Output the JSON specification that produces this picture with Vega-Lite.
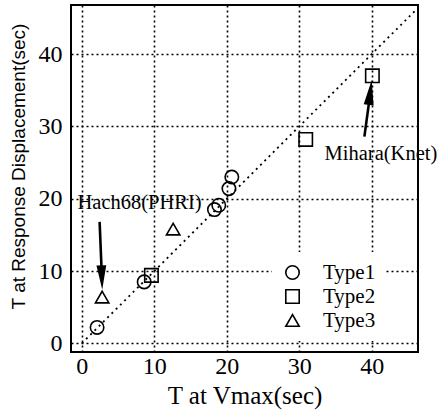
{
  "$schema": "https://vega.github.io/schema/vega-lite/v6.json",
  "width": 347,
  "height": 347,
  "autosize": "none",
  "padding": {"left": 71, "top": 5, "right": 19, "bottom": 64},
  "background": "white",
  "config": {
    "font": "Liberation Serif",
    "view": {"stroke": "black", "strokeWidth": 2},
    "axis": {
      "domain": false,
      "ticks": false,
      "grid": true,
      "gridColor": "black",
      "gridDash": [2, 3],
      "gridWidth": 1.6,
      "gridOpacity": 1,
      "labelFont": "Liberation Serif",
      "labelFontSize": 24,
      "labelColor": "black",
      "titleFont": "Liberation Serif",
      "titleFontSize": 25,
      "titleFontWeight": "normal",
      "titleColor": "black"
    }
  },
  "datasets": {
    "pts": [
      {"tx": 2.1, "ry": 2.2, "type": "Type1"},
      {"tx": 8.6, "ry": 8.5, "type": "Type1"},
      {"tx": 18.3, "ry": 18.5, "type": "Type1"},
      {"tx": 18.9, "ry": 19.1, "type": "Type1"},
      {"tx": 20.3, "ry": 21.4, "type": "Type1"},
      {"tx": 20.7, "ry": 23.0, "type": "Type1"},
      {"tx": 9.6, "ry": 9.4, "type": "Type2"},
      {"tx": 30.9, "ry": 28.2, "type": "Type2"},
      {"tx": 40.1, "ry": 37.0, "type": "Type2"},
      {"tx": 2.8, "ry": 6.4, "type": "Type3"},
      {"tx": 12.6, "ry": 15.8, "type": "Type3"}
    ],
    "diag": [{"x1": 0, "y1": 0, "x2": 46, "y2": 46}],
    "shafts": [
      {"x1": 2.45, "y1": 16.8, "x2": 2.75, "y2": 9.5},
      {"x1": 39.0, "y1": 28.6, "x2": 39.8, "y2": 34.5}
    ],
    "headDown": [{"hx": 2.75, "hy": 9.1}],
    "headUp": [{"hx": 39.8, "hy": 34.7}],
    "notes": [
      {"nx": -0.6, "ny": 19.4, "label": "Hach68(PHRI)"},
      {"nx": 33.5, "ny": 26.2, "label": "Mihara(Knet)"}
    ]
  },
  "layer": [
    {
      "data": {"name": "diag"},
      "mark": {"type": "rule", "color": "black", "strokeDash": [2, 4], "strokeWidth": 1.8},
      "encoding": {
        "x": {"field": "x1", "type": "quantitative", "scale": {"domain": [-1.5, 46.4], "nice": false, "zero": false}, "title": "T at Vmax(sec)", "axis": {"values": [0, 10, 20, 30, 40], "labelPadding": 2, "titlePadding": 5}},
        "y": {"field": "y1", "type": "quantitative", "scale": {"domain": [-1.2, 46.8], "nice": false, "zero": false}, "title": "T at Response Displacement(sec)", "axis": {"values": [0, 10, 20, 30, 40], "labelPadding": 9, "titlePadding": 10, "titleFont": "Liberation Sans", "titleFontSize": 19, "titleY": 161}},
        "x2": {"field": "x2"},
        "y2": {"field": "y2"}
      }
    },
    {
      "data": {"name": "pts"},
      "mark": {"type": "point", "filled": false, "stroke": "black", "strokeWidth": 1.6, "size": 180, "opacity": 1},
      "encoding": {
        "x": {"field": "tx", "type": "quantitative"},
        "y": {"field": "ry", "type": "quantitative"},
        "shape": {
          "field": "type",
          "type": "nominal",
          "scale": {"domain": ["Type1", "Type2", "Type3"], "range": ["circle", "square", "triangle-up"]},
          "legend": {
            "title": null,
            "orient": "none",
            "legendX": 201,
            "legendY": 247,
            "padding": 10,
            "fillColor": "white",
            "labelFont": "Liberation Serif",
            "labelFontSize": 21,
            "labelColor": "black",
            "labelOffset": 20,
            "rowPadding": 2,
            "symbolSize": 180,
            "symbolStrokeColor": "black",
            "symbolStrokeWidth": 1.6,
            "symbolFillColor": "transparent"
          }
        }
      }
    },
    {
      "data": {"name": "shafts"},
      "mark": {"type": "rule", "color": "black", "strokeWidth": 2.6},
      "encoding": {
        "x": {"field": "x1", "type": "quantitative"},
        "y": {"field": "y1", "type": "quantitative"},
        "x2": {"field": "x2"},
        "y2": {"field": "y2"}
      }
    },
    {
      "data": {"name": "headDown"},
      "mark": {"type": "point", "shape": "M0,1L0.4,-1L-0.4,-1Z", "filled": true, "color": "black", "opacity": 1, "size": 600, "angle": 358},
      "encoding": {
        "x": {"field": "hx", "type": "quantitative"},
        "y": {"field": "hy", "type": "quantitative"}
      }
    },
    {
      "data": {"name": "headUp"},
      "mark": {"type": "point", "shape": "M0,-1L0.4,1L-0.4,1Z", "filled": true, "color": "black", "opacity": 1, "size": 625, "angle": 7},
      "encoding": {
        "x": {"field": "hx", "type": "quantitative"},
        "y": {"field": "hy", "type": "quantitative"}
      }
    },
    {
      "data": {"name": "notes"},
      "mark": {"type": "text", "align": "left", "baseline": "middle", "font": "Liberation Serif", "fontSize": 20.5, "color": "black"},
      "encoding": {
        "x": {"field": "nx", "type": "quantitative"},
        "y": {"field": "ny", "type": "quantitative"},
        "text": {"field": "label"}
      }
    }
  ]
}
